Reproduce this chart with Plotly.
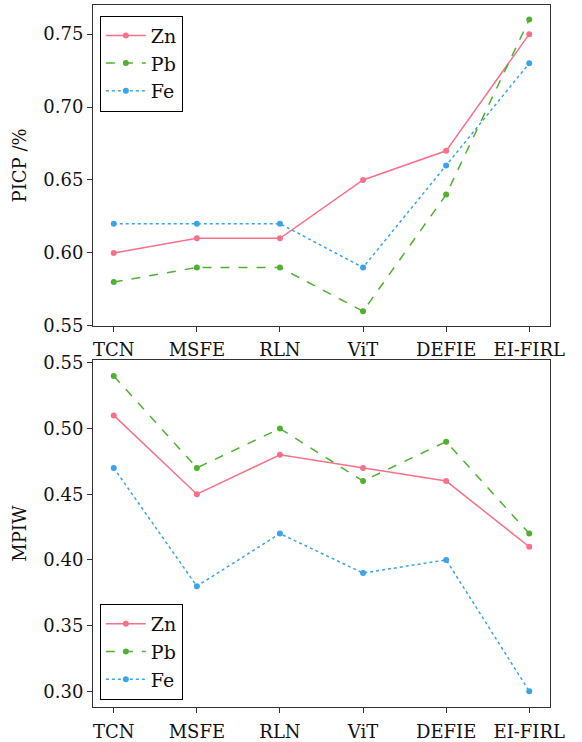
import plotly.graph_objects as go

models = ["TCN", "MSFE", "RLN", "ViT", "DEFIE", "EI-FIRL"]
series = ["Zn", "Pb", "Fe"]
picp_zn = [0.60, 0.61, 0.61, 0.65, 0.67, 0.75]
picp_pb = [0.58, 0.59, 0.59, 0.56, 0.64, 0.76]
picp_fe = [0.62, 0.62, 0.62, 0.59, 0.66, 0.73]
mpiw_zn = [0.51, 0.45, 0.48, 0.47, 0.46, 0.41]
mpiw_pb = [0.54, 0.47, 0.50, 0.46, 0.49, 0.42]
mpiw_fe = [0.47, 0.38, 0.42, 0.39, 0.40, 0.30]
picp_ticks = [0.55, 0.60, 0.65, 0.70, 0.75]
mpiw_ticks = [0.30, 0.35, 0.40, 0.45, 0.50, 0.55]

colors = ["#f77189", "#50b131", "#3ba3ec"]
dashes = ["solid", "dash", "dot"]
FONT = "'DejaVu Serif', 'Liberation Serif', serif"

fig = go.Figure()
top = [picp_zn, picp_pb, picp_fe]
bot = [mpiw_zn, mpiw_pb, mpiw_fe]
for i, name in enumerate(series):
    fig.add_trace(go.Scatter(x=models, y=top[i], name=name, mode="lines+markers",
                             line=dict(color=colors[i], width=1.5, dash=dashes[i]),
                             marker=dict(size=6, color=colors[i]),
                             xaxis="x", yaxis="y", legend="legend"))
for i, name in enumerate(series):
    fig.add_trace(go.Scatter(x=models, y=bot[i], name=name, mode="lines+markers",
                             line=dict(color=colors[i], width=1.5, dash=dashes[i]),
                             marker=dict(size=6, color=colors[i]),
                             xaxis="x2", yaxis="y2", legend="legend2"))

axcommon = dict(showline=True, mirror=True, linecolor="#333333", linewidth=1,
                ticks="outside", ticklen=5, tickcolor="#333333", showgrid=False,
                zeroline=False, automargin=False,
                tickfont=dict(family=FONT, size=18, color="#111111"))

fig.update_layout(
    width=582, height=742,
    margin=dict(l=93, r=32, t=5, b=35),
    plot_bgcolor="white", paper_bgcolor="white",
    font=dict(family=FONT, size=18, color="#111111"),
    xaxis=dict(domain=[0, 1], anchor="y", range=[-0.25, 5.25], ticklabelstandoff=3, **axcommon),
    yaxis=dict(domain=[0.543, 1.0], anchor="x", range=[0.55, 0.77],
               tickvals=picp_ticks, tickformat=".2f",
               title=dict(text="PICP /%", font=dict(family=FONT, size=18), standoff=12),
               **axcommon),
    xaxis2=dict(domain=[0, 1], anchor="y2", range=[-0.25, 5.25], ticklabelstandoff=3, **axcommon),
    yaxis2=dict(domain=[0, 0.494], anchor="x2", range=[0.288, 0.552],
                tickvals=mpiw_ticks, tickformat=".2f",
                title=dict(text="MPIW", font=dict(family=FONT, size=18), standoff=12),
                **axcommon),
    legend=dict(x=0.015, y=0.985, xanchor="left", yanchor="top",
                bordercolor="black", borderwidth=1, bgcolor="white",
                font=dict(family=FONT, size=19), tracegroupgap=0, itemwidth=40),
    legend2=dict(x=0.015, y=0.01, xanchor="left", yanchor="bottom",
                 bordercolor="black", borderwidth=1, bgcolor="white",
                 font=dict(family=FONT, size=19), tracegroupgap=0, itemwidth=40),
    showlegend=True,
)

fig.write_html("out.html")
